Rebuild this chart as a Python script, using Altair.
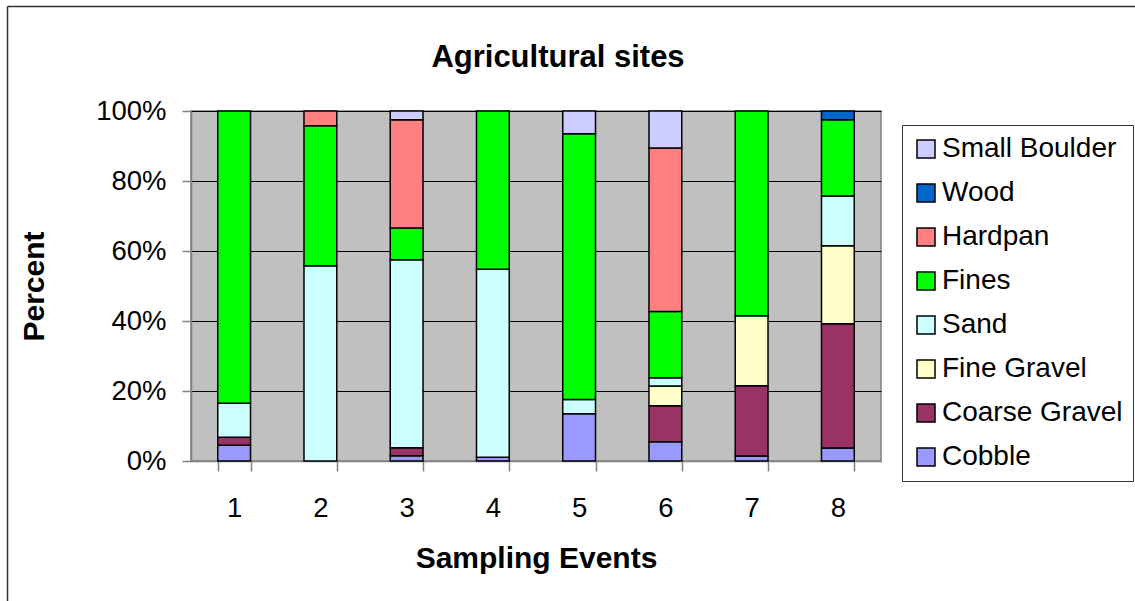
import altair as alt
import pandas as pd

# Sampling events along the x axis
events = ["1", "2", "3", "4", "5", "6", "7", "8"]

# Substrate classes in legend order (top of stack first)
materials = ["Small Boulder", "Wood", "Hardpan", "Fines", "Sand",
             "Fine Gravel", "Coarse Gravel", "Cobble"]
colors = ["#CCCCFF", "#0066CC", "#FF8080", "#00FF00", "#CCFFFF",
          "#FFFFCC", "#993366", "#9999FF"]

# Percent composition of each sampling event
cobble = [4.5, 0, 1.5, 1.1, 13.5, 5.5, 1.4, 3.7]
coarse_gravel = [2.3, 0, 2.3, 0, 0, 10.3, 20.1, 35.5]
fine_gravel = [0, 0, 0, 0, 0, 5.6, 20.0, 22.3]
sand = [9.7, 55.8, 53.7, 53.7, 4.1, 2.4, 0, 14.2]
fines = [83.5, 40.0, 9.1, 45.2, 75.9, 18.9, 58.5, 21.8]
hardpan = [0, 4.2, 30.9, 0, 0, 46.7, 0, 0]
wood = [0, 0, 0, 0, 0, 0, 0, 2.5]
small_boulder = [0, 0, 2.5, 0, 6.5, 10.6, 0, 0]

# Bottom-to-top stacking order
stack = [
    ("Cobble", cobble),
    ("Coarse Gravel", coarse_gravel),
    ("Fine Gravel", fine_gravel),
    ("Sand", sand),
    ("Fines", fines),
    ("Hardpan", hardpan),
    ("Wood", wood),
    ("Small Boulder", small_boulder),
]

rows = []
for idx, (name, vals) in enumerate(stack):
    for ev, v in zip(events, vals):
        if v > 0:
            rows.append({"event": ev, "material": name, "pct": v, "level": idx})
df = pd.DataFrame(rows)

FONT = "Liberation Sans"

bars = alt.Chart(df).mark_bar(stroke="black", strokeWidth=1.5).encode(
    x=alt.X(
        "event:N",
        sort=events,
        scale=alt.Scale(paddingInner=0.62, paddingOuter=0.31),
        axis=alt.Axis(
            title="Sampling Events",
            labelAngle=0,
            tickBand="extent",
            tickSize=10,
            labelPadding=45,
            labelBaseline="alphabetic",
            labelFontSize=27.5,
            titleFontSize=30,
            titleFontWeight="bold",
            titleX=345,
            titleY=106,
            titleBaseline="alphabetic",
            grid=False,
        ),
    ),
    y=alt.Y(
        "pct:Q",
        stack="normalize",
        scale=alt.Scale(domain=[0, 1], nice=False),
        axis=alt.Axis(
            title="Percent",
            format=".0%",
            values=[0, 0.2, 0.4, 0.6, 0.8, 1.0],
            tickSize=9,
            labelPadding=16,
            labelFontSize=27.5,
            titleFontSize=30,
            titleFontWeight="bold",
            titleAngle=270,
            titleX=-148,
            titleY=175,
            titleAlign="center",
            titleBaseline="alphabetic",
            grid=True,
            gridColor="#000000",
            gridWidth=1,
        ),
    ),
    color=alt.Color(
        "material:N",
        scale=alt.Scale(domain=materials, range=colors),
        legend=alt.Legend(
            title=None,
            orient="none",
            legendX=711,
            legendY=14,
            symbolType="square",
            symbolSize=324,
            symbolStrokeColor="black",
            symbolStrokeWidth=1.5,
            symbolOpacity=1,
            labelFontSize=28,
            labelFont=FONT,
            labelLimit=400,
            labelOffset=2,
            rowPadding=16,
            padding=10,
            strokeColor="#333333",
            fillColor="white",
        ),
    ),
    order=alt.Order("level:Q", sort="ascending"),
)

# Outer chart frame (left and top edges)
frame_data = alt.Data(values=[{}])
frame_left = alt.Chart(frame_data).mark_rule(color="#333333", strokeWidth=1.5).encode(
    x=alt.value(-183.5), y=alt.value(-104.5), y2=alt.value(520)
)
frame_top = alt.Chart(frame_data).mark_rule(color="#333333", strokeWidth=1.5).encode(
    x=alt.value(-183.5), x2=alt.value(1000), y=alt.value(-104.5)
)

chart = alt.layer(bars, frame_left, frame_top).properties(
    width=690,
    height=350,
    autosize=alt.AutoSizeParams(type="none"),
    padding={"left": 191, "top": 111, "right": 254, "bottom": 140},
    title=alt.TitleParams(
        "Agricultural sites",
        font=FONT,
        fontSize=31,
        fontWeight="bold",
        anchor="middle",
        frame="group",
        dx=22,
        offset=-68,
        color="black",
    ),
).configure(
    background="white",
    font=FONT,
).configure_view(
    fill="#C0C0C0",
    stroke="#808080",
    strokeWidth=1.5,
).configure_axis(
    labelFont=FONT,
    titleFont=FONT,
    labelColor="black",
    titleColor="black",
    domainColor="#808080",
    domainWidth=1.5,
    tickColor="#808080",
    tickWidth=1.5,
)

chart.save("out.html", embed_options={"renderer": "svg", "actions": False})
